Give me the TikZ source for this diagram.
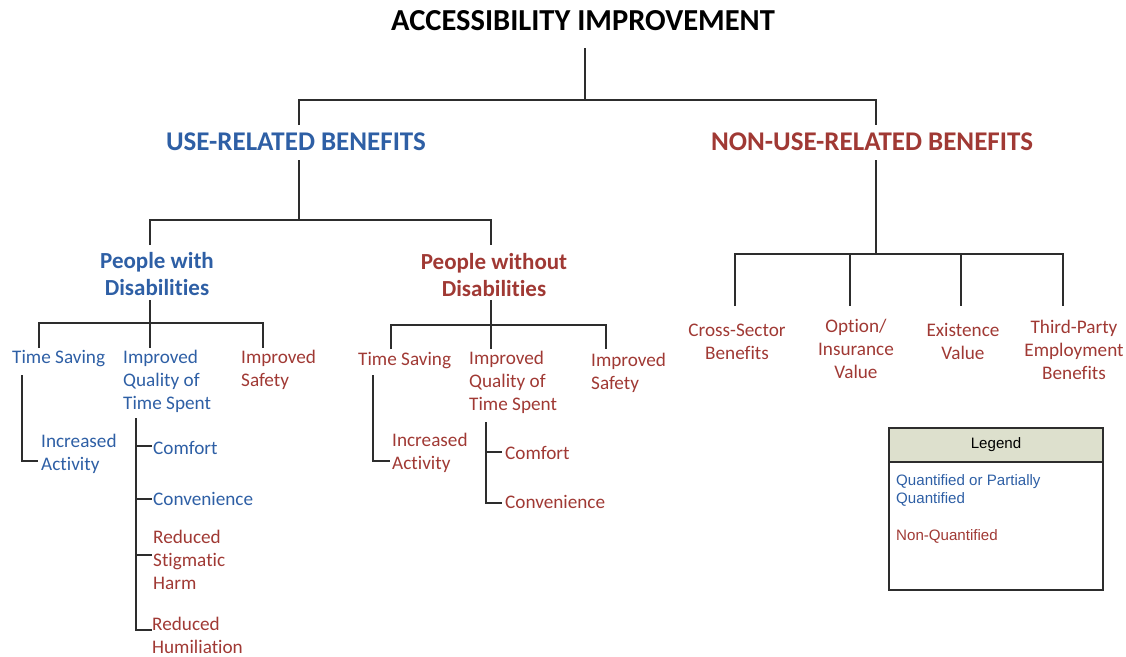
\documentclass[tikz,border=0pt]{standalone}
\usepackage{fontspec}
\setmainfont{Carlito}[Ligatures=NoCommon]
\newfontfamily\legfont{Liberation Sans}
\definecolor{ub}{RGB}{46,95,165}
\definecolor{nr}{RGB}{160,57,52}
\definecolor{lgfill}{RGB}{221,224,205}
\definecolor{ln}{RGB}{45,45,45}
\begin{document}
\begin{tikzpicture}[x=1pt,y=-1pt,
  lbl/.style={inner sep=0pt, font=\fontsize{19.2}{23}\selectfont, align=left, anchor=west},
  ctr/.style={inner sep=0pt, font=\fontsize{19.2}{23}\selectfont, align=center},
  grp/.style={inner sep=0pt, font=\fontsize{23}{27}\selectfont\bfseries, align=center},
  sec/.style={inner sep=0pt, font=\fontsize{27}{30}\selectfont\bfseries},
  conn/.style={draw=ln, line width=1.2pt},
  leg/.style={inner sep=0pt, font=\legfont\fontsize{15.1}{18}\selectfont, align=left},
]
\useasboundingbox (0,0) rectangle (1126,656);
% headings
\node[inner sep=0pt, font=\fontsize{30.5}{32}\selectfont\bfseries] (title) at (583,21) {ACCESSIBILITY IMPROVEMENT};
\node[sec, text=ub] (use) at (296,142) {USE-RELATED BENEFITS};
\node[sec, text=nr] (nonuse) at (872,142) {NON-USE-RELATED BENEFITS};
\node[grp, text=ub] (pwd) at (157,274) {People with\\Disabilities};
\node[grp, text=nr] (pwod) at (494,275) {People without\\Disabilities};
% people with disabilities
\node[lbl, text=ub] (ts1) at (12,359) {Time Saving};
\node[lbl, text=ub] (iq1) at (123,381) {Improved\\Quality of\\Time Spent};
\node[lbl, text=nr] (is1) at (241,369.5) {Improved\\Safety};
\node[lbl, text=ub] (ia1) at (41,454) {Increased\\Activity};
\node[lbl, text=ub] (cf1) at (153,448) {Comfort};
\node[lbl, text=ub] (cv1) at (153,499) {Convenience};
\node[lbl, text=nr] (rs1) at (153,560) {Reduced\\Stigmatic\\Harm};
\node[lbl, text=nr] (rh1) at (152,635) {Reduced\\Humiliation};
% people without disabilities
\node[lbl, text=nr] (ts2) at (358,361) {Time Saving};
\node[lbl, text=nr] (iq2) at (469,382) {Improved\\Quality of\\Time Spent};
\node[lbl, text=nr] (is2) at (591,372.5) {Improved\\Safety};
\node[lbl, text=nr] (ia2) at (392,452.5) {Increased\\Activity};
\node[lbl, text=nr] (cf2) at (505,453) {Comfort};
\node[lbl, text=nr] (cv2) at (505,502) {Convenience};
% non-use
\node[ctr, text=nr] (cs) at (737,341.5) {Cross-Sector\\Benefits};
\node[ctr, text=nr] (oi) at (856,349) {Option/\\Insurance\\Value};
\node[ctr, text=nr] (ev) at (963,341.5) {Existence\\Value};
\node[ctr, text=nr] (tp) at (1074,350) {Third-Party\\Employment\\Benefits};
% junctions
\coordinate (j0) at (585,100);
\coordinate (j1) at (299,220);
\coordinate (j2) at (150,323);
\coordinate (j3) at (491,325);
\coordinate (j4) at (876,254);
% connectors
\draw[conn] (585,48) -- (j0);
\draw[conn] (299,125) |- (j0) -| (876,125);
\draw[conn] (299,160) -- (j1);
\draw[conn] (150,245) |- (j1) -| (491,245);
\draw[conn] (150,300) -- (j2) -- (150,348);
\draw[conn] (39,348) |- (j2) -| (263,348);
\draw[conn] (22,375) |- (38,461);
\draw[conn] (136,418) |- (152,630);
\draw[conn] (136,446) -- (152,446);
\draw[conn] (136,499) -- (152,499);
\draw[conn] (136,555) -- (152,555);
\draw[conn] (491,300) -- (j3) -- (491,349);
\draw[conn] (391,349) |- (j3) -| (606,349);
\draw[conn] (373,375) |- (390,461);
\draw[conn] (486,422) |- (502,503);
\draw[conn] (486,452) -- (502,452);
\draw[conn] (876,160) -- (j4);
\draw[conn] (735,306) |- (j4) -| (1063,306);
\draw[conn] (850,254) -- (850,306);
\draw[conn] (961,254) -- (961,306);
% legend
\fill[lgfill] (889,428) rectangle (1103,462);
\draw[draw=ln, line width=1.1pt] (889,428) rectangle (1103,590);
\draw[draw=ln, line width=1.1pt] (889,462) -- (1103,462);
\node[leg] (lgt) at (996,445) {Legend};
\node[leg, anchor=west, text=ub] (lq) at (896,490) {Quantified or Partially\\Quantified};
\node[leg, anchor=west, text=nr] (lnq) at (896,536) {Non-Quantified};
\end{tikzpicture}
\end{document}
